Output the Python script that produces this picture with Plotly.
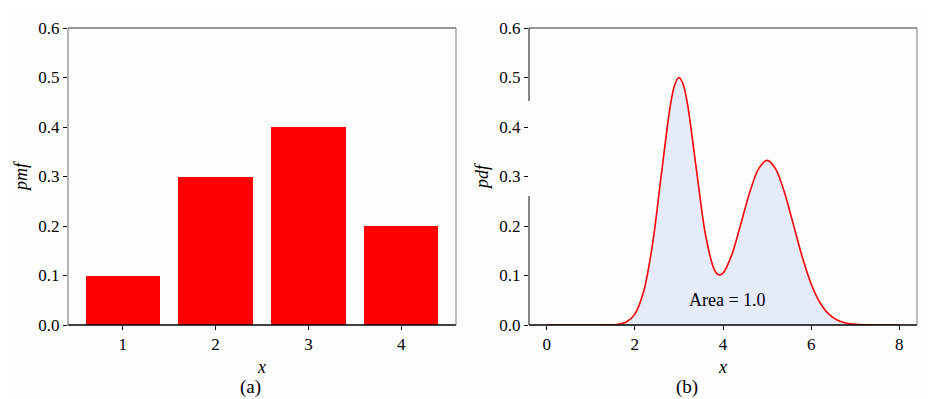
import plotly.graph_objects as go

# ---- data ----
pmf_x = [1, 2, 3, 4]
pmf_y = [0.1, 0.3, 0.4, 0.2]

pdf_x = [0.0, 0.4, 0.8, 1.2, 1.4, 1.6, 1.8, 2.0, 2.2, 2.4, 2.6, 2.8, 2.9, 3.0, 3.1,
         3.2, 3.4, 3.6, 3.8, 3.9, 4.0, 4.2, 4.4, 4.6, 4.8, 5.0, 5.2, 5.4, 5.6, 5.8,
         6.0, 6.2, 6.4, 6.6, 6.8, 7.0, 7.2, 7.4, 7.6, 8.0]
pdf_y = [0.0, 0.0, 0.0, 0.0, 0.0002, 0.0011, 0.0055, 0.0219, 0.0675, 0.1619, 0.3025,
         0.4404, 0.4840, 0.4999, 0.4855, 0.4437, 0.3119, 0.1838, 0.1125, 0.1016,
         0.1048, 0.1422, 0.2028, 0.2664, 0.3145, 0.3325, 0.3145, 0.2662, 0.2017,
         0.1367, 0.0829, 0.0450, 0.0219, 0.0095, 0.0037, 0.0013, 0.0004, 0.0001,
         0.0, 0.0]

y_ticks = [0.0, 0.1, 0.2, 0.3, 0.4, 0.5, 0.6]
y_tick_labels = ["0.0", "0.1", "0.2", "0.3", "0.4", "0.5", "0.6"]
left_x_ticks = [1, 2, 3, 4]
right_x_ticks = [0, 2, 4, 6, 8]

FONT = "Times New Roman, Liberation Serif, serif"

# page has an 8px body margin; figure is sized and positioned to compensate
OFF = 8
W, H = 934 - OFF, 399 - OFF

def fx(px):
    return (px - OFF) / W

def fy(py):
    return (H - (py - OFF)) / H

dom1 = [fx(68), fx(456)]
dom2 = [fx(529), fx(917)]
ydom = [fy(325), fy(28)]

fig = go.Figure()
fig.add_trace(go.Bar(x=pmf_x, y=pmf_y, width=0.8, marker=dict(color="#ff0000", line=dict(width=0)),
                     xaxis="x", yaxis="y", showlegend=False))
fig.add_trace(go.Scatter(x=pdf_x, y=pdf_y, mode="lines", line=dict(color="#ff0000", width=1.6, shape="spline", smoothing=0.8),
                         fill="tozeroy", fillcolor="#e5ebfa", xaxis="x2", yaxis="y2", showlegend=False))

axis_common = dict(showgrid=False, zeroline=False, ticks="outside", ticklen=4, tickcolor="#000",
                   tickfont=dict(family=FONT, size=17, color="#000"), showline=False, automargin=False)

title_font = dict(family=FONT, size=18, color="#000")
fig.update_layout(
    width=W, height=H,
    margin=dict(l=0, r=0, t=0, b=0, autoexpand=False),
    paper_bgcolor="#fdfdfd", plot_bgcolor="#fdfdfd",
    bargap=0,
    xaxis=dict(domain=dom1, range=[0.41, 4.59], tickvals=left_x_ticks, anchor="y",
               title=dict(text="<i>x</i>", font=title_font, standoff=6), **axis_common),
    yaxis=dict(domain=ydom, range=[0, 0.6], tickvals=y_ticks, ticktext=y_tick_labels, anchor="x",
               title=dict(text="<i>pmf</i>", font=title_font, standoff=6), **axis_common),
    xaxis2=dict(domain=dom2, range=[-0.4, 8.4], tickvals=right_x_ticks, anchor="y2",
                title=dict(text="<i>x</i>", font=title_font, standoff=6), **axis_common),
    yaxis2=dict(domain=ydom, range=[0, 0.6], tickvals=y_ticks, ticktext=y_tick_labels, anchor="x2",
                title=dict(text="<i>pdf</i>", font=title_font, standoff=6), **axis_common),
)

def spines(xref, yref, left_segments):
    shapes = []
    shapes.append(dict(type="line", xref=xref + " domain", yref=yref + " domain", x0=0, x1=1, y0=0, y1=0,
                       line=dict(color="#000", width=1.3)))
    shapes.append(dict(type="line", xref=xref + " domain", yref=yref + " domain", x0=0, x1=1, y0=1, y1=1,
                       line=dict(color="#333", width=1.1)))
    shapes.append(dict(type="line", xref=xref + " domain", yref=yref + " domain", x0=1, x1=1, y0=0, y1=1,
                       line=dict(color="#888", width=1.1)))
    for (a, b, c) in left_segments:
        shapes.append(dict(type="line", xref=xref + " domain", yref=yref + " domain", x0=0, x1=0, y0=a, y1=b,
                           line=dict(color=c, width=1.1)))
    return shapes

shapes = spines("x", "y", [(0, 1, "#777")])
g_lo = (325 - 196) / 297
g_hi = (325 - 101) / 297
shapes += spines("x2", "y2", [(0, g_lo, "#222"), (g_hi, 1, "#222")])
fig.update_layout(shapes=shapes)

fig.add_annotation(x=4.1, y=0.05, xref="x2", yref="y2", text="Area = 1.0", showarrow=False,
                   font=dict(family=FONT, size=18, color="#000"))
fig.add_annotation(x=fx(238), y=fy(387), xref="paper", yref="paper", text="(a)", showarrow=False,
                   font=dict(family=FONT, size=19, color="#000"), yanchor="middle")
fig.add_annotation(x=fx(700), y=fy(387), xref="paper", yref="paper", text="(b)", showarrow=False,
                   font=dict(family=FONT, size=19, color="#000"), yanchor="middle")

fig.write_html("out.html")
